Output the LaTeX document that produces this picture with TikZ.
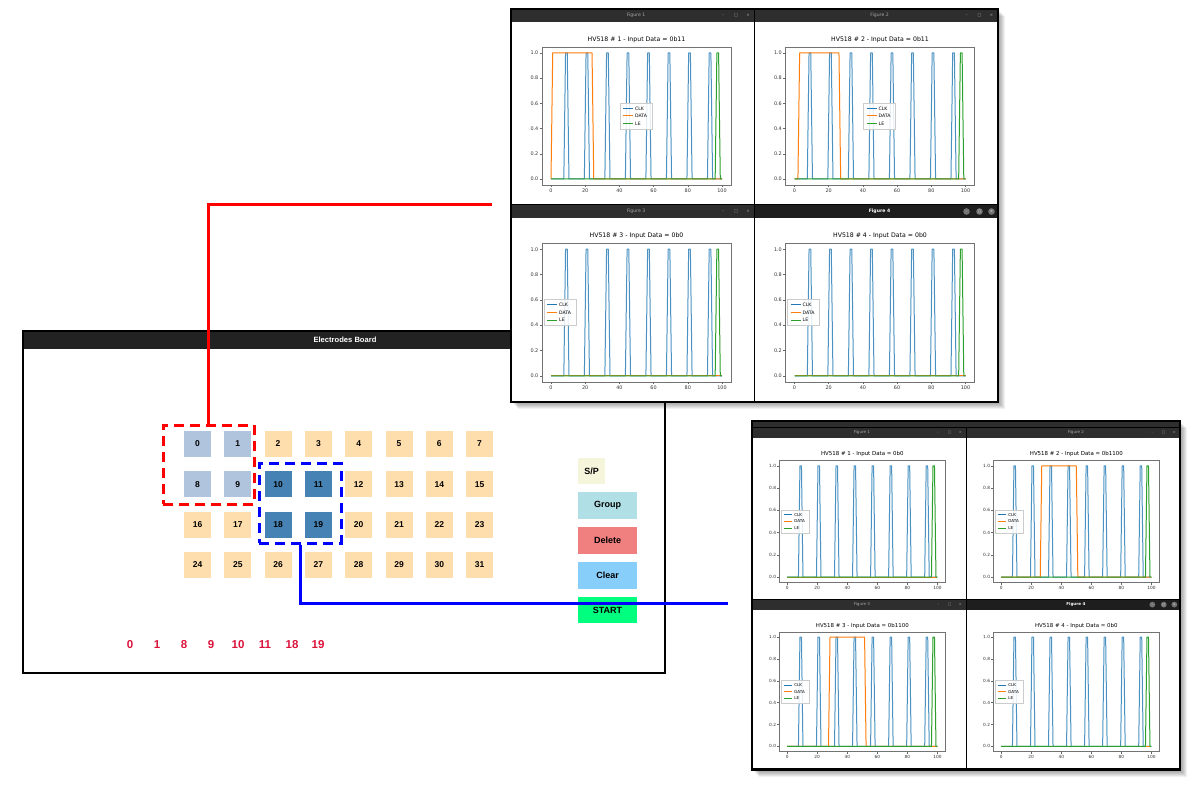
\documentclass[tikz,border=0pt]{standalone}
\usepackage{fontspec}
\setmainfont{Liberation Sans}
\newfontfamily\mplfont{DejaVu Sans}
\definecolor{tbar}{HTML}{2E2E2E}
\definecolor{tbara}{HTML}{1E1E1E}
\definecolor{boardbar}{HTML}{222222}
\definecolor{elec}{HTML}{FFDEAD}
\definecolor{elsel}{HTML}{B0C4DE}
\definecolor{eldark}{HTML}{4682B4}
\definecolor{mblue}{HTML}{1F77B4}
\definecolor{morange}{HTML}{FF7F0E}
\definecolor{mgreen}{HTML}{2CA02C}
\definecolor{crim}{HTML}{DC143C}
\definecolor{spbg}{HTML}{F5F5DC}
\definecolor{grpbg}{HTML}{B0E0E6}
\definecolor{delbg}{HTML}{F08080}
\definecolor{clrbg}{HTML}{87CEFA}
\definecolor{startbg}{HTML}{00FF7F}
\tikzset{
  elecbox/.style={rectangle,inner sep=0,minimum width=27,minimum height=26,font=\bfseries\fontsize{8.5}{10}\selectfont},
  sel0/.style={fill=elec},
  sel1/.style={fill=elsel},
  sel2/.style={fill=eldark},
  btn/.style={rectangle,inner sep=0,minimum height=27,minimum width=59,font=\bfseries\fontsize{9}{10}\selectfont},
  rednum/.style={text=crim,font=\bfseries\fontsize{11.5}{12}\selectfont},
  selred/.style={draw=red,line width=3,dash pattern=on 10pt off 6pt,rectangle,inner sep=0},
  selblue/.style={draw=blue,line width=3,dash pattern=on 10pt off 6pt,rectangle,inner sep=0},
  redline/.style={draw=red,line width=3},
  blueline/.style={draw=blue,line width=3},
  ticklab/.style={font=\mplfont\fontsize{4.9}{5}\selectfont,text=black!80,inner sep=0.5},
  ptitle/.style={font=\mplfont\fontsize{6.2}{7}\selectfont,inner sep=0},
  legtext/.style={font=\mplfont\fontsize{4.6}{5}\selectfont,anchor=west,inner sep=0},
  wtitle/.style={font=\mplfont\fontsize{4.6}{5}\selectfont,inner sep=0},
  clk/.style={mblue,opacity=.8,line width=1,line join=round},
  dat/.style={morange,line width=1,line join=round},
  lesig/.style={mgreen,line width=1,line join=round},
}
% #1 x, #2 y, #3 scale options, #4 figure number, #5 data string,
% #6 data rise (-1 = none), #7 legend x, #8 active, #9 name prefix
\newcommand\figwin[9]{%
\begin{scope}[shift={(#1,#2)},#3,transform shape]
\fill[white] (0,0) rectangle (243.5,196);
\ifnum#8=1
  \fill[tbara] (0,0) rectangle (243.5,13);
  \node[wtitle,text=white,font=\mplfont\bfseries\fontsize{4.6}{5}\selectfont] (#9-t) at (125,6.5) {Figure #4};
  \foreach \bx/\g [count=\i] in {212/{\textendash},225/{□},237/{×}}{
    \fill[black!55] (\bx,6.5) circle (3.3);
    \node[wtitle,text=white,font=\mplfont\fontsize{3.5}{4}\selectfont] (#9-b\i) at (\bx,6.5) {\g};}
\else
  \fill[tbar] (0,0) rectangle (243.5,13);
  \node[wtitle,text=black!35] (#9-t) at (125,6.5) {Figure #4};
  \foreach \bx/\g [count=\i] in {212/{\textendash},225/{□},237/{×}}{
    \node[wtitle,text=black!35,font=\mplfont\fontsize{4}{4}\selectfont] (#9-b\i) at (\bx,6.5) {\g};}
\fi
\draw[black,line width=1] (0,0) rectangle (243.5,196);
\node[ptitle] (#9-pt) at (125.5,31) {HV518 \# #4 - Input Data = #5};
\draw[black!55,line width=.7] (31,38) rectangle (220,176);
\foreach \v/\l [count=\i] in {0/0.0,0.2/0.2,0.4/0.4,0.6/0.6,0.8/0.8,1/1.0}{
  \draw[black!60,line width=.5] (28.5,{170-126*\v}) -- (31,{170-126*\v});
  \node[ticklab,anchor=east] (#9-y\i) at (28,{170-126*\v}) {\l};}
\foreach \d [count=\i] in {0,20,40,60,80,100}{
  \draw[black!60,line width=.5] ({40+1.71*\d},176) -- ({40+1.71*\d},178.5);
  \node[ticklab,anchor=north] (#9-x\i) at ({40+1.71*\d},179.5) {\d};}
\begin{scope}[shift={(40,170)},xscale=1.71,yscale=-126]
  \draw[clk] (0,0) \foreach \c in {9,21,...,93}{ -- ({\c-1.5},0) -- ({\c-0.5},1) -- ({\c+0.5},1) -- ({\c+1.5},0)} -- (100,0);
  \ifdim#6pt<0pt
    \draw[dat] (0,0) -- (100,0);
  \else
    \draw[dat] (0,0) -- (#6,0) -- ({#6+1},1) -- ({#6+24},1) -- ({#6+25},0) -- (100,0);
  \fi
  \draw[lesig] (0,0) -- (96,0) -- (97,1) -- (98,1) -- (99,0) -- (100,0);
\end{scope}
\fill[white,opacity=.85] (#7,94) rectangle ++(32,26);
\draw[black!20,line width=.5] (#7,94) rectangle ++(32,26);
\foreach \cl/\lab/\yy [count=\i] in {mblue/CLK/99.5,morange/DATA/107,mgreen/LE/114.5}{
  \draw[\cl,line width=1] ({#7+3},\yy) -- ++(10,0);
  \node[legtext] (#9-l\i) at ({#7+15},\yy) {\lab};}
\end{scope}}
\begin{document}
\begin{tikzpicture}[x=1pt,y=-1pt]
\useasboundingbox (0,0) rectangle (1204,791);
\fill[white] (0,0) rectangle (1204,791);

% ---------------- Electrodes Board window ----------------
\fill[white] (23,331) rectangle (665,673);
\fill[boardbar] (23,331) rectangle (665,349);
\draw[black,line width=1.5] (23,331) rectangle (665,673);
\node[text=white,font=\bfseries\fontsize{7.6}{9}\selectfont] (boardtitle) at (345,340) {Electrodes Board};

\foreach \n in {0,...,31}{
  \pgfmathtruncatemacro\cc{mod(\n,8)}
  \pgfmathtruncatemacro\rr{div(\n,8)}
  \pgfmathtruncatemacro\sel{(\n==0||\n==1||\n==8||\n==9)?1:((\n==10||\n==11||\n==18||\n==19)?2:0)}
  \node[elecbox,sel\sel] (e\n) at ({197.5+40.3*\cc},{444+40.3*\rr}) {\n};
}

\node[btn,fill=spbg,minimum width=27,minimum height=26] (bsp) at (591.5,471) {S/P};
\node[btn,fill=grpbg] (bgroup) at (607.5,505.5) {Group};
\node[btn,fill=delbg] (bdelete) at (607.5,540.5) {Delete};
\node[btn,fill=clrbg] (bclear) at (607.5,575.5) {Clear};
\node[btn,fill=startbg,minimum height=26] (bstart) at (607.5,610) {START};

\foreach \t/\xx in {0/130,1/157,8/184,9/211,10/238,11/265,18/292,19/318}{
  \node[rednum] (r\t) at (\xx,645) {\t};
}

\node[selred,minimum width=91,minimum height=79] (redsel) at (208.5,464.5) {};
\node[selblue,minimum width=82,minimum height=80] (bluesel) at (300,503) {};

\coordinate (redend) at (492,205);
\coordinate (blueend) at (728,603);
\draw[redline] (redsel.north) |- (redend);
\draw[blueline] (bluesel.south) |- (blueend);

% ---------------- Top group of figures ----------------
\foreach \k in {1,...,7}{
  \fill[black,opacity=.06] ({511+\k},{9+\k}) rectangle ({998+\k},{402+\k});
}
\figwin{511}{9}{xscale=1,yscale=1}{1}{0b11}{0}{109}{0}{tf1}
\figwin{754.5}{9}{xscale=1,yscale=1}{2}{0b11}{2}{109}{0}{tf2}
\figwin{511}{205}{xscale=1,yscale=1.005}{3}{0b0}{-1}{33}{0}{tf3}
\figwin{754.5}{205}{xscale=1,yscale=1.005}{4}{0b0}{-1}{33}{1}{tf4}
\draw[black,line width=1.5] (511,9) rectangle (998,402);

% ---------------- Lower group of figures ----------------
\foreach \k in {1,...,7}{
  \fill[black,opacity=.06] ({752+\k},{421+\k}) rectangle ({1180+\k},{770+\k});
}
\fill[tbar] (752,421) rectangle (1180,428);
\figwin{752}{427}{xscale=.879,yscale=.883}{1}{0b0}{-1}{33}{0}{bf1}
\figwin{966}{427}{xscale=.879,yscale=.883}{2}{0b1100}{26}{33}{0}{bf2}
\figwin{752}{599}{xscale=.879,yscale=.867}{3}{0b1100}{27.5}{33}{0}{bf3}
\figwin{966}{599}{xscale=.879,yscale=.867}{4}{0b0}{-1}{33}{1}{bf4}
\draw[black,line width=1.5] (752,421) rectangle (1180,770);
\end{tikzpicture}
\end{document}
